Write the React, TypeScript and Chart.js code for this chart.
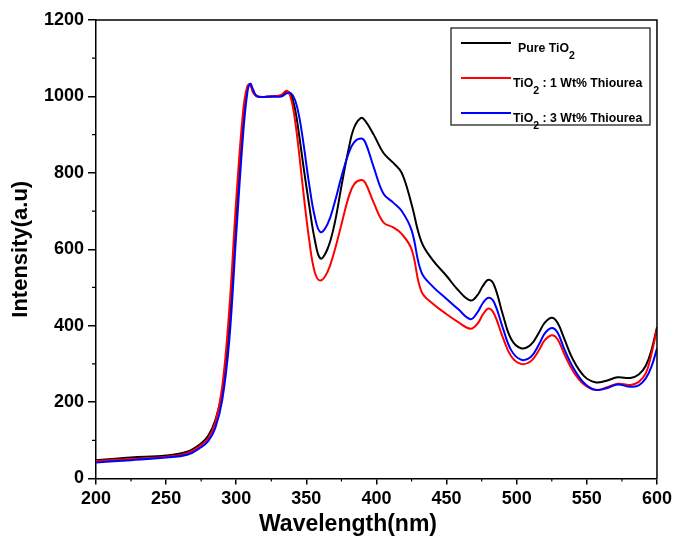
import React, { useEffect, useRef } from 'react';
import { Chart, registerables } from 'chart.js';
Chart.register(...registerables);

const wavelengths = [200, 225, 250, 265, 275, 280, 285, 290, 295, 300, 305, 308, 310, 312, 315, 325, 332, 336, 339, 342, 345, 348, 352, 356, 360, 365, 370, 375, 380, 384, 389, 392, 398, 405, 412, 418, 425, 432, 440, 450, 458, 467, 472, 476, 480, 484, 490, 496, 503, 510, 516, 520, 525, 529, 534, 540, 548, 556, 564, 572, 581, 587, 592, 596, 600];

const pureTiO2 = [48, 55, 60, 70, 92, 112, 152, 230, 400, 690, 940, 1022, 1033, 1012, 1000, 1000, 1002, 1013, 1005, 965, 895, 815, 715, 625, 576, 600, 665, 765, 860, 918, 944, 936, 900, 852, 826, 800, 718, 620, 572, 530, 494, 466, 480, 505, 520, 505, 430, 365, 341, 350, 383, 408, 421, 408, 365, 312, 268, 252, 256, 265, 263, 272, 295, 335, 396];

const thiourea1 = [46, 51, 57, 66, 88, 105, 145, 240, 440, 730, 965, 1028, 1030, 1010, 1000, 1000, 1004, 1015, 995, 935, 845, 745, 625, 540, 518, 540, 595, 665, 735, 770, 781, 774, 722, 670, 657, 640, 600, 490, 458, 430, 410, 392, 405, 430, 445, 430, 370, 320, 300, 307, 337, 362, 375, 365, 325, 282, 246, 232, 238, 248, 245, 253, 275, 325, 392];

const thiourea3 = [42, 48, 55, 62, 82, 98, 132, 205, 360, 640, 905, 1012, 1033, 1018, 1000, 1000, 1000, 1008, 1008, 990, 945, 875, 770, 685, 645, 665, 720, 790, 850, 880, 890, 880, 815, 745, 722, 700, 650, 540, 503, 470, 444, 417, 435, 460, 473, 460, 395, 336, 311, 318, 352, 380, 394, 383, 338, 292, 250, 232, 236, 246, 240, 244, 262, 292, 340];

const xTicks = [200, 250, 300, 350, 400, 450, 500, 550, 600];
const xMinorTicks = [225, 275, 325, 375, 425, 475, 525, 575];
const yTicks = [0, 200, 400, 600, 800, 1000, 1200];
const yMinorTicks = [100, 300, 500, 700, 900, 1100];

const seriesNames = ['Pure TiO|2|', 'TiO|2| : 1 Wt% Thiourea', 'TiO|2| : 3 Wt% Thiourea'];
const seriesColors = ['#000000', '#ff0000', '#0000ff'];
const xTitle = 'Wavelength(nm)';
const yTitle = 'Intensity(a.u)';

const FONT = 'Arial, "Liberation Sans", sans-serif';

const framePlugin = {
  id: 'frameAndExtras',
  afterDraw(chart: any) {
    const ctx = chart.ctx;
    const { left, right, top, bottom } = chart.chartArea;
    const xs = chart.scales.x;
    const ys = chart.scales.y;
    ctx.save();
    ctx.strokeStyle = '#000';
    ctx.lineWidth = 1.5;
    ctx.beginPath();
    ctx.moveTo(left, top);
    ctx.lineTo(right, top);
    ctx.lineTo(right, bottom);
    ctx.stroke();
    // minor ticks
    ctx.lineWidth = 1.2;
    ctx.beginPath();
    xMinorTicks.forEach((v) => {
      const px = xs.getPixelForValue(v);
      ctx.moveTo(px, bottom);
      ctx.lineTo(px, bottom + 3);
    });
    yMinorTicks.forEach((v) => {
      const py = ys.getPixelForValue(v);
      ctx.moveTo(left, py);
      ctx.lineTo(left - 4, py);
    });
    ctx.stroke();

    // x-axis title
    ctx.fillStyle = '#000';
    ctx.font = `bold 23px ${FONT}`;
    ctx.textAlign = 'center';
    ctx.textBaseline = 'middle';
    ctx.fillText(xTitle, 348, 525);

    // legend
    const bx = 451, by = 28, bw = 199, bh = 97;
    ctx.fillStyle = '#fff';
    ctx.fillRect(bx, by, bw, bh);
    ctx.strokeStyle = '#222';
    ctx.lineWidth = 1.3;
    ctx.strokeRect(bx, by, bw, bh);
    const rows = [43, 78, 113];
    const textX = [518, 513, 513];
    seriesNames.forEach((name, i) => {
      const y = rows[i];
      ctx.strokeStyle = seriesColors[i];
      ctx.lineWidth = 2;
      ctx.beginPath();
      ctx.moveTo(461, y);
      ctx.lineTo(511, y);
      ctx.stroke();
      ctx.fillStyle = '#000';
      ctx.textBaseline = 'alphabetic';
      ctx.textAlign = 'left';
      let x = textX[i];
      const parts = name.split('|');
      parts.forEach((p, k) => {
        if (k % 2 === 1) {
          ctx.font = `bold 10.5px ${FONT}`;
          ctx.fillText(p, x, y + 15.5);
        } else {
          ctx.font = `bold 12.3px ${FONT}`;
          ctx.fillText(p, x, y + 8.5);
        }
        x += ctx.measureText(p).width;
      });
    });
    ctx.restore();
  },
};

export default function App() {
  const ref = useRef<HTMLCanvasElement>(null);
  useEffect(() => {
    document.body.style.margin = '0';
    const mk = (vals: number[]) => wavelengths.map((x, i) => ({ x, y: vals[i] }));
    const values = [pureTiO2, thiourea1, thiourea3];
    const orders = [2, 1, 0];
    const chart = new Chart(ref.current as HTMLCanvasElement, {
      type: 'line',
      data: {
        datasets: values.map((v, i) => ({
          label: seriesNames[i].replace(/\|/g, ''),
          data: mk(v),
          borderColor: seriesColors[i],
          backgroundColor: seriesColors[i],
          borderWidth: 2,
          pointRadius: 0,
          tension: 0.4,
          order: orders[i],
        })),
      },
      options: {
        responsive: false,
        animation: false,
        layout: { padding: { left: 0, right: 18, top: 20, bottom: 0 } },
        plugins: { legend: { display: false }, tooltip: { enabled: false } },
        scales: {
          x: {
            type: 'linear',
            min: 200,
            max: 600,
            afterBuildTicks: (s: any) => {
              s.ticks = xTicks.map((v) => ({ value: v }));
            },
            afterFit: (s: any) => {
              s.height = 59.5;
            },
            ticks: {
              font: { family: FONT, weight: 'bold', size: 18 },
              color: '#000',
              padding: 4,
              maxRotation: 0,
              autoSkip: false,
              callback: (v: any) => String(v),
            },
            grid: { drawOnChartArea: false, drawTicks: true, tickLength: 6, color: '#000', lineWidth: 1.5 },
            border: { display: true, color: '#000', width: 1.5 },
          },
          y: {
            type: 'linear',
            min: 0,
            max: 1200,
            afterBuildTicks: (s: any) => {
              s.ticks = yTicks.map((v) => ({ value: v }));
            },
            afterFit: (s: any) => {
              s.width = 96;
            },
            ticks: {
              font: { family: FONT, weight: 'bold', size: 18 },
              color: '#000',
              padding: 4,
              autoSkip: false,
              callback: (v: any) => String(v),
            },
            grid: { drawOnChartArea: false, drawTicks: true, tickLength: 8, color: '#000', lineWidth: 1.5 },
            border: { display: true, color: '#000', width: 1.5 },
            title: {
              display: true,
              text: yTitle,
              font: { family: FONT, weight: 'bold', size: 22 },
              color: '#000',
              padding: { top: 8, bottom: 0 },
            },
          },
        },
      },
      plugins: [framePlugin],
    });
    return () => chart.destroy();
  }, []);
  return <canvas ref={ref} width={676} height={538} style={{ display: 'block' }} />;
}
